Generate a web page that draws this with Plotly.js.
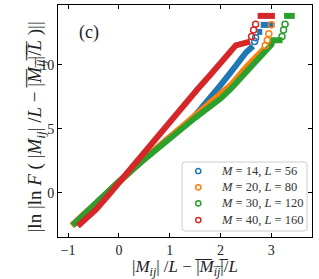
<!DOCTYPE html>
<html>
<head>
<meta charset="utf-8">
<script src="https://cdn.plot.ly/plotly-3.0.1.min.js"></script>
<style>
html,body{margin:0;padding:0;background:#fff;}
#chart{width:319px;height:279px;}
</style>
</head>
<body>
<div id="chart"></div>
<script>
// ---- data ----
const seriesNames = ["<i>M</i> = 14, <i>L</i> = 56", "<i>M</i> = 20, <i>L</i> = 80", "<i>M</i> = 30, <i>L</i> = 120", "<i>M</i> = 40, <i>L</i> = 160"];
const seriesColors = ["#1f77b4", "#ff7f0e", "#2ca02c", "#d62728"];

// M=14, L=56 (blue)
const blueBandX = [-0.93, -0.7, -0.5, -0.25, 0, 0.5, 1.0, 1.4, 1.6, 1.8, 2.0, 2.2, 2.4, 2.5, 2.64];
const blueBandY = [-2.55, -1.7, -0.9, 0.0, 0.9, 2.65, 4.35, 5.6, 6.5, 7.4, 8.4, 9.4, 10.4, 10.95, 11.45];
const blueStepX = [2.72, 2.82, null, 2.79, 3.04];
const blueStepY = [12.55, 12.55, null, 13.1, 13.1];
const blueDotX = [2.67, 2.69];
const blueDotY = [11.8, 12.1];

// M=20, L=80 (orange)
const orangeBandX = [-0.93, -0.7, -0.5, -0.25, 0, 0.5, 1.0, 1.5, 2.0, 2.2, 2.5, 2.7, 2.85];
const orangeBandY = [-2.55, -1.7, -0.9, 0.0, 0.9, 2.65, 4.35, 6.0, 7.6, 8.4, 9.8, 10.6, 11.2];
const orangeStepX = [];
const orangeStepY = [];
const orangeDotX = [2.88, 2.92, 2.95, 3.0];
const orangeDotY = [11.5, 11.9, 12.4, 13.1];

// M=30, L=120 (green)
const greenBandX = [-0.91, -0.7, -0.5, -0.25, 0, 0.5, 1.0, 1.5, 2.0, 2.2, 2.5, 2.8, 3.0, 3.03, 3.22];
const greenBandY = [-2.55, -1.75, -0.95, 0.0, 0.9, 2.6, 4.25, 5.85, 7.35, 8.1, 9.4, 10.7, 11.55, 11.9, 11.9];
const greenStepX = [3.25, 3.46];
const greenStepY = [13.8, 13.8];
const greenDotX = [3.21, 3.24, 3.27];
const greenDotY = [12.2, 12.7, 13.15];

// M=40, L=160 (red)
const redBandX = [-0.81, -0.65, -0.45, -0.2, 0, 0.3, 0.55, 0.8, 1.05, 1.3, 1.55, 1.8, 2.05, 2.2, 2.3, 2.58];
const redBandY = [-2.6, -2.05, -1.3, -0.15, 0.8, 2.2, 3.4, 4.65, 5.85, 7.0, 8.1, 9.2, 10.3, 11.0, 11.5, 11.8];
const redStepX = [2.73, 3.07];
const redStepY = [13.8, 13.8];
const redDotX = [2.61, 2.65, 2.69];
const redDotY = [12.2, 12.7, 13.15];

const xTicks = [-1, 0, 1, 2, 3];
const xTickText = ["\u22121", "0", "1", "2", "3"];
const yTicks = [0, 5, 10];
const yTickText = ["0", "5", "10"];
const panelLabel = "(c)";

// ---- build traces ----
const bands = [
  [blueBandX, blueBandY, blueStepX, blueStepY, blueDotX, blueDotY],
  [orangeBandX, orangeBandY, orangeStepX, orangeStepY, orangeDotX, orangeDotY],
  [greenBandX, greenBandY, greenStepX, greenStepY, greenDotX, greenDotY],
  [redBandX, redBandY, redStepX, redStepY, redDotX, redDotY]
];
const traces = [];
bands.forEach((s, i) => {
  const xs = s[0].concat(s[2].length ? [null].concat(s[2]) : []);
  const ys = s[1].concat(s[3].length ? [null].concat(s[3]) : []);
  traces.push({
    x: xs, y: ys, type: "scatter", mode: "lines",
    line: {color: seriesColors[i], width: 6},
    connectgaps: false, showlegend: false, hoverinfo: "skip"
  });
});
bands.forEach((s, i) => {
  traces.push({
    x: s[4], y: s[5], type: "scatter", mode: "markers", name: seriesNames[i], showlegend: false,
    marker: {symbol: "circle-open", size: 6, color: seriesColors[i], line: {width: 1.5, color: seriesColors[i]}}
  });
});

const serif = "Liberation Serif";
const overlined = "|\u0305<i>M\u0305</i><sub><i>i\u0305j\u0305</i></sub>|\u0305";
const yTitle = "|ln |ln <i>F</i> ( |<i>M</i><sub><i>ij</i></sub>| /<i>L</i> \u2212 " + overlined + "/\u0305<i>L\u0305</i> )||";
const xTitle = "|<i>M</i><sub><i>ij</i></sub>| /<i>L</i> \u2212 " + overlined + "/<i>L</i>";

// ---- hand-built legend (compact, like the reference) ----
const plotL = 58, plotR = 312, plotT = 5, plotB = 237;
const px2x = p => (p - plotL) / (plotR - plotL);
const px2y = p => (plotB - p) / (plotB - plotT);
const legBox = {x0: 182, x1: 307, y0: 162, y1: 231, r: 3};
const legRowsPx = [171, 187.3, 203.3, 220];
const legMarkX = 198.3, legTextX = 219;

function roundRectPath(b) {
  const X = px2x, Y = px2y, r = b.r;
  return `M ${X(b.x0 + r)} ${Y(b.y0)} L ${X(b.x1 - r)} ${Y(b.y0)} Q ${X(b.x1)} ${Y(b.y0)} ${X(b.x1)} ${Y(b.y0 + r)} ` +
    `L ${X(b.x1)} ${Y(b.y1 - r)} Q ${X(b.x1)} ${Y(b.y1)} ${X(b.x1 - r)} ${Y(b.y1)} ` +
    `L ${X(b.x0 + r)} ${Y(b.y1)} Q ${X(b.x0)} ${Y(b.y1)} ${X(b.x0)} ${Y(b.y1 - r)} ` +
    `L ${X(b.x0)} ${Y(b.y0 + r)} Q ${X(b.x0)} ${Y(b.y0)} ${X(b.x0 + r)} ${Y(b.y0)} Z`;
}
const shapes = [{
  type: "path", xref: "paper", yref: "paper", path: roundRectPath(legBox),
  fillcolor: "rgba(255,255,255,0.85)", line: {color: "#cccccc", width: 1}, layer: "above"
}];
const annotations = [{
  x: -0.59, y: 12.5, xref: "x", yref: "y", text: panelLabel, showarrow: false,
  font: {family: serif, size: 18, color: "#222"}
}, {
  x: -0.088, y: 0.475, xref: "paper", yref: "paper", xanchor: "center", yanchor: "middle",
  text: yTitle, textangle: -90, showarrow: false,
  font: {family: serif, size: 19, color: "#222"}
}];
legRowsPx.forEach((ry, i) => {
  const rad = 2.6;
  shapes.push({
    type: "circle", xref: "paper", yref: "paper", layer: "above",
    x0: px2x(legMarkX - rad), x1: px2x(legMarkX + rad), y0: px2y(ry + rad), y1: px2y(ry - rad),
    line: {color: seriesColors[i], width: 1.5}, fillcolor: "rgba(0,0,0,0)"
  });
  annotations.push({
    x: px2x(legTextX), y: px2y(ry), xref: "paper", yref: "paper", xanchor: "left", yanchor: "middle",
    text: seriesNames[i], showarrow: false, font: {family: serif, size: 12.5, color: "#333"}
  });
});

const layout = {
  width: 319, height: 279,
  margin: {l: 58, r: 7, t: 5, b: 42},
  paper_bgcolor: "#fff", plot_bgcolor: "#fff",
  font: {family: serif, color: "#222", size: 14},
  showlegend: false,
  xaxis: {
    range: [-1.2, 3.8], tickvals: xTicks, ticktext: xTickText,
    ticks: "inside", ticklen: 4, tickcolor: "#000", tickwidth: 1,
    showline: true, linecolor: "#000", linewidth: 1, mirror: "ticks",
    showgrid: false, zeroline: false,
    tickfont: {family: serif, size: 14, color: "#222"},
    title: {text: xTitle, font: {family: serif, size: 17, color: "#222"}, standoff: 4}
  },
  yaxis: {
    range: [-3.45, 14.65], tickvals: yTicks, ticktext: yTickText,
    ticks: "inside", ticklen: 4, tickcolor: "#000", tickwidth: 1,
    showline: true, linecolor: "#000", linewidth: 1, mirror: "ticks",
    showgrid: false, zeroline: false,
    tickfont: {family: serif, size: 14, color: "#222"}
  },
  shapes: shapes,
  annotations: annotations
};

Plotly.newPlot("chart", traces, layout, {displayModeBar: false, staticPlot: true});
</script>
</body>
</html>
